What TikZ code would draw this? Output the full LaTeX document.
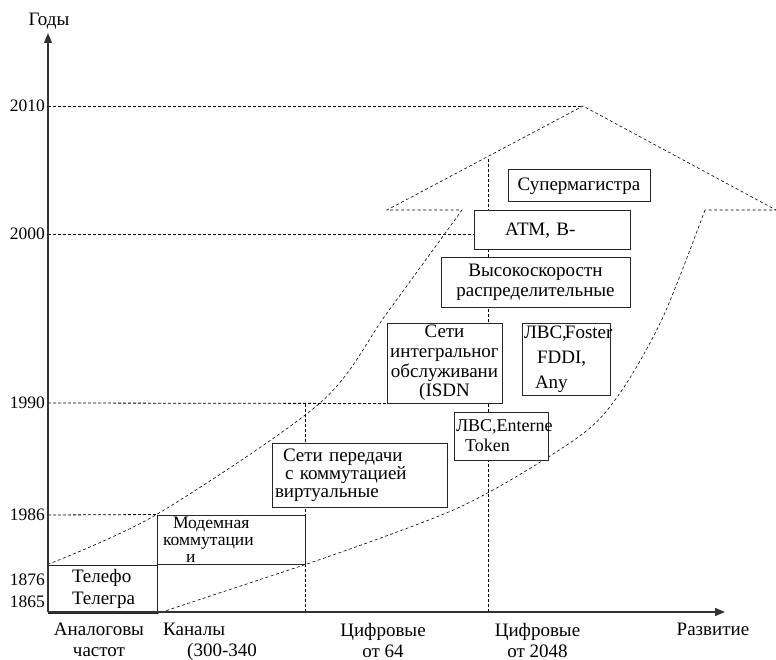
\documentclass[tikz,border=0pt]{standalone}
\usepackage{fontspec}
\setmainfont{Liberation Serif}
\usetikzlibrary{arrows.meta,backgrounds}
\newcommand{\lbl}{\fontsize{19}{21}\selectfont}
\newcommand{\yrfont}{\fontsize{17.5}{21}\selectfont}
\tikzset{
  axis/.style={-{Triangle[length=10pt,width=8pt]},line width=1.3pt,draw=black!80},
  box/.style={draw=black!85,fill=white,line width=1pt,inner xsep=2pt,inner ysep=0pt},
  lead/.style={font=\fontsize{19}{#1}\selectfont},
  yr/.style={anchor=east,inner sep=0pt,font=\yrfont},
  xlab/.style={anchor=north,inner sep=0pt,align=center,font=\lbl},
  guide/.style={dash pattern=on 3pt off 2pt,line width=0.8pt},
  outline/.style={dash pattern=on 3pt off 2.5pt,line width=0.6pt}
}

\begin{document}
\begin{tikzpicture}[x=1pt,y=-1pt]
  \useasboundingbox (0,0) rectangle (776,660);
  \coordinate (o) at (48,612);
  \coordinate (ytop) at (48,33);
  \coordinate (xend) at (725,612);
  \coordinate (apex) at (583,106);
  \coordinate (v2048) at (488,157);

  % boxes
  \node[box,lead=22,align=left,text width=105pt,minimum height=48pt] (tel) at (102.5,589)
    {\hspace*{22pt}Телефо\\\hspace*{22pt}Телегра};
  \node[box,font=\fontsize{17.5}{17}\selectfont,align=left,text width=144pt,minimum height=49pt] (mod) at (231,539.5)
    {\hspace*{14pt}Модемная\\\hspace*{4pt}коммутации\\\hspace*{27pt}и};
  \node[box,lead=18,align=left,text width=171pt,minimum height=64pt] (vc) at (359.5,475)
    {\hspace*{9pt}Сети передачи\\\hspace*{11pt}с коммутацией\\\hspace*{1pt}виртуальные};
  \node[box,lead=19.6,align=center,text width=111pt,minimum height=80pt] (isdn) at (444.5,363)
    {Сети\\интегральног\\обслуживани\\(ISDN};
  \node[box,font=\fontsize{18}{20}\selectfont,align=left,text width=90pt,minimum height=48pt] (eth) at (501,436)
    {ЛВС,Enterne\\\hspace*{9pt}Token};
  \node[box,lead=25,align=left,text width=84pt,minimum height=72pt] (fddi) at (566,359)
    {ЛВС,\kern-2pt Foster\\\hspace*{13pt}FDDI,\\\hspace*{11pt}Any};
  \node[box,lead=20,align=center,text width=185pt,minimum height=49pt] (hs) at (535.5,282.5)
    {Высокоскоростн\\распределительные};
  \node[box,lead=20,align=left,text width=152pt,minimum height=39pt] (atm) at (552,230.5)
    {\hspace*{29pt}АТМ, В-};
  \node[box,lead=20,align=center,text width=138pt,minimum height=32pt] (sup) at (579,186)
    {Супермагистра};

  % axes and labels
  \draw[axis] (o) -- (ytop);
  \draw[axis] (o) -- (xend);
  \node[xlab] (years) at (49,13) {Годы};
  \foreach \yr/\yy in {2010/106,2000/234,1990/403,1986/515,1876/580,1865/602}
    \node[yr] (t\yr) at (45,\yy) {\yr};
  \node[xlab] (ana) at (99,623) {Аналоговы\\частот};
  \node[xlab,anchor=north west,align=left] (kan) at (163,623) {Каналы\\\hspace*{24pt}(300-340};
  \node[xlab] (d64) at (383,623) {Цифровые\\от 64};
  \node[xlab] (d2048) at (537.5,623) {Цифровые\\от 2048};
  \node[xlab] (dev) at (713,623) {Развитие};

  \begin{scope}[on background layer]
    \draw[guide] (o |- t2010) -- (apex);
    \draw[guide] (o |- t2000) -- (atm.west |- t2000);
    \draw[guide] (o |- t1990) -- (isdn.south west);
    \draw[guide] (o |- t1986) -- (mod.north west);
    \draw[guide] (mod.east |- o) -- (mod.east |- t1990);
    \draw[guide] (v2048 |- o) -- (v2048);
    % development arrow
    \draw[outline] plot[smooth,tension=0.5] coordinates
        {(tel.north west) (mod.north west) (320,403) (387,313) (462,210)}
      -- (387,210) -- (apex) -- (776,210) -- (705,210)
      plot[smooth,tension=0.5] coordinates
        {(705,210) (663,317) (620,393) (577,438) (460,507) (mod.south east)}
      -- (tel.south east);
  \end{scope}
\end{tikzpicture}
\end{document}
